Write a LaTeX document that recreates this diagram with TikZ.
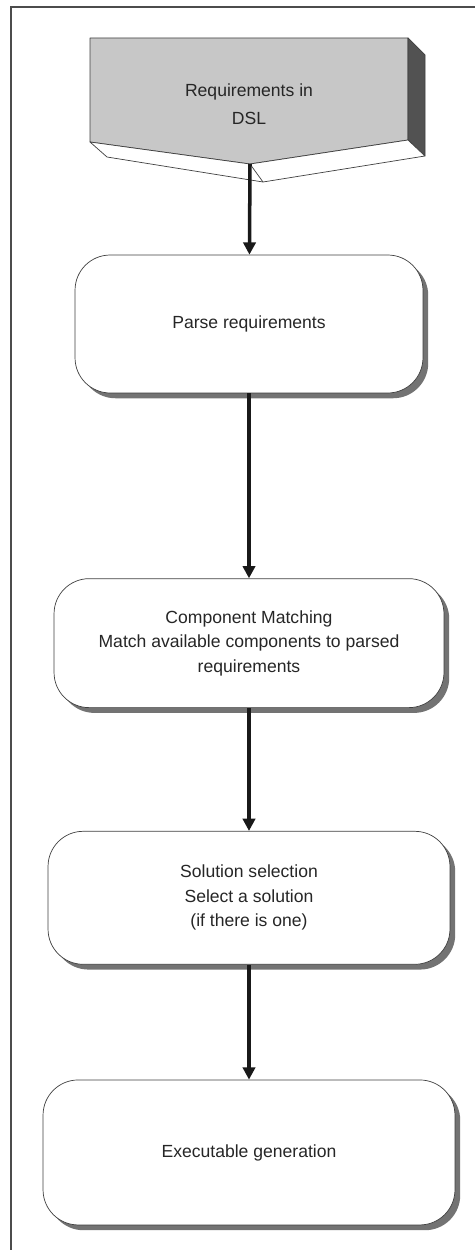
\documentclass[tikz,border=0pt]{standalone}
\usepackage{fontspec}
\setmainfont{Liberation Sans}
\usetikzlibrary{arrows.meta,positioning,shadows}
\tikzstyle{process}=[
	rectangle,
	rounded corners=20pt,
	draw=black!75,
	fill=white,
	thin,
	align=center,
	text=black!85,
	font=\fontsize{10}{14}\selectfont,
	drop shadow={shadow xshift=3pt, shadow yshift=-3pt, fill=black!55, opacity=1}
]
\tikzstyle{flow}=[
	-{Triangle[length=7pt,width=7pt]},
	line width=2pt,
	black!90
]
\tikzstyle{docface}=[
	draw=black!75,
	thin,
	line join=round
]

\begin{document}
\begin{tikzpicture}[x=0.02cm,y=-0.02cm]
\useasboundingbox (0,0) rectangle (475,1250);
% frame
\draw[black!70, line width=0.8pt] (11,1260) -- (11,7) -- (480,7);
% document shape
\filldraw[docface, fill=black!22] (90,38) -- (408,38) -- (408,140) -- (250,164) -- (90,142) -- cycle;
\filldraw[docface, fill=black!68] (408,38) -- (425,55) -- (425,156) -- (408,140) -- cycle;
\filldraw[docface, fill=white] (90,142) -- (250,164) -- (408,140) -- (425,156) -- (263,182) -- (107,157) -- cycle;
\draw[docface] (250,164) -- (263,182);
\node[text=black!85, align=center, font=\fontsize{10}{16}\selectfont] (dsl) at (249,104) {Requirements in\\DSL};
\coordinate (dslTip) at (250,164);
% steps
\node [process, minimum width=6.96cm, minimum height=2.76cm] (parse) at (249,324) {Parse requirements};
\node [process, minimum width=7.8cm, minimum height=2.58cm, below=3.7cm of parse] (match)
	{Component Matching\\Match available components to parsed\\requirements};
\node [process, minimum width=8.04cm, minimum height=2.66cm, below=2.46cm of match] (select)
	{Solution selection\\Select a solution\\(if there is one)};
\node [process, minimum width=8.24cm, minimum height=2.9cm, below=2.3cm of select] (generate)
	{Executable generation};
% arrows
\draw[flow] (dslTip) -- (parse);
\draw[flow] (parse) -- (match);
\draw[flow] (match) -- (select);
\draw[flow] (select) -- (generate);
\end{tikzpicture}
\end{document}
